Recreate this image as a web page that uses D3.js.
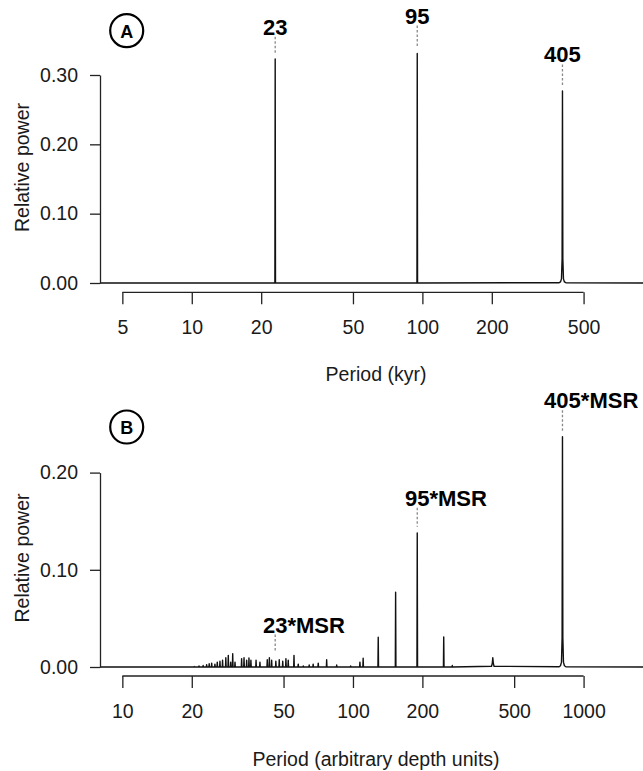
<!DOCTYPE html>
<html>
<head>
<meta charset="utf-8">
<script src="https://cdn.jsdelivr.net/npm/d3@7"></script>
<style>
  html, body { margin: 0; padding: 0; background: #fff; }
  svg { display: block; }
  text { font-family: "Liberation Sans", Arial, Helvetica, sans-serif; fill: #1a1a1a; }
</style>
</head>
<body>
<svg id="chart" width="643" height="771"></svg>
<script>
// ---- panel A: astronomical target, period in kyr ----
const ticksA = [5, 10, 20, 50, 100, 200, 500];
const yTicksA = [0, 0.10, 0.20, 0.30];
const spikePeriodsA = [23, 95];
const spikePowersA = [0.323, 0.331];
// broad 405 kyr peak, read point by point
const profileA = [[392, 0.0004], [397, 0.0015], [401, 0.006], [403.5, 0.035], [405, 0.277],
  [406.5, 0.035], [409, 0.006], [413, 0.0015], [419, 0.0004]];
const labelsA = ['23', '95', '405'];
const labelPeriodsA = [23, 95, 405];
const labelLevelsA = [0.369, 0.385, 0.329];
const labelTargetsA = [0.323, 0.331, 0.277];

// ---- panel B: record in depth units ----
const ticksB = [10, 20, 50, 100, 200, 500, 1000];
const yTicksB = [0, 0.10, 0.20];
const spikePeriodsB = [20.5, 21.5, 22.4, 23.2, 23.8, 24.4, 25.2, 25.8, 26.5, 27.2, 28.1, 28.8, 29.5,
  30.1, 30.8, 32.9, 33.7, 34.6, 35.4, 36.1, 38.0, 39.5, 42.5, 43.4, 44.4, 46.3, 47.9, 49.6, 51.2,
  52.4, 55.5, 57.9, 60.9, 64.6, 67.2, 70.7, 76.9, 85.0, 97.7, 107.2, 110.7, 128.7, 153.1, 190,
  247.5, 269.6];
const spikePowersB = [0.0005, 0.001, 0.0015, 0.0024, 0.0034, 0.004, 0.003, 0.005, 0.006, 0.007, 0.0096, 0.012, 0.005,
  0.0137, 0.005, 0.0086, 0.0096, 0.007, 0.0093, 0.007, 0.007, 0.005, 0.0075, 0.0096, 0.007, 0.006, 0.0075, 0.006, 0.0086,
  0.007, 0.012, 0.003, 0.001, 0.002, 0.003, 0.004, 0.0075, 0.002, 0.001, 0.005, 0.009, 0.0306, 0.0769, 0.138,
  0.031, 0.0015];
const profileB = [[399, 0.0008], [402, 0.004], [404, 0.0095], [406, 0.004], [409, 0.0008],
  [784, 0.0003], [794, 0.0013], [802, 0.005], [807, 0.03], [810, 0.237],
  [813, 0.03], [818, 0.005], [826, 0.0013], [838, 0.0003]];
const labelsB = ['23*MSR', '95*MSR', '405*MSR'];
const labelNumsB = ['23', '95', '405'];
const labelPeriodsB = [46, 190, 810];
const labelLevelsB = [0.0432, 0.1736, 0.274];
const labelTargetsB = [0.0096, 0.138, 0.237];

const svg = d3.select('#chart');

function drawPanel(p) {
  const g = svg.append('g');
  const x = d3.scaleLog().domain(p.xDomain).range([100, 653]);
  const y = d3.scaleLinear().domain(p.yDomain).range(p.yRange);

  // spectrum as one polyline: baseline + spikes + read profiles
  const pts = [[x(p.xDomain[0]), y(0)], [x(p.xDomain[1]), y(0)]];
  p.spikes.forEach((d, i) => {
    const px = x(d);
    pts.push([px - 0.3, y(0)], [px, y(p.powers[i])], [px + 0.3, y(0)]);
  });
  p.profile.forEach(d => pts.push([x(d[0]), y(d[1])]));
  pts.sort((a, b) => a[0] - b[0]);

  g.append('path')
    .attr('d', d3.line()(pts))
    .attr('fill', 'none')
    .attr('stroke', '#111')
    .attr('stroke-width', 1.4)
    .attr('stroke-linejoin', 'round');

  // y axis
  const ya = g.append('g').attr('transform', 'translate(100,0)')
    .call(d3.axisLeft(y).tickValues(p.yTicks).tickFormat(d3.format('.2f'))
      .tickSize(10).tickSizeOuter(0).tickPadding(12));
  ya.selectAll('text').style('font-size', '19.5px').style('fill', '#1a1a1a');

  // x axis, line only between first and last tick
  const xa = g.append('g').attr('transform', `translate(0,${p.xAxisY})`)
    .call(d3.axisBottom(x).tickValues(p.xTicks).tickFormat(d => d)
      .tickSize(12).tickSizeOuter(0).tickPadding(16));
  xa.select('.domain').attr('d', `M${x(p.xTicks[0])},0H${x(p.xTicks[p.xTicks.length - 1])}`);
  xa.selectAll('text').style('font-size', '19.5px').style('fill', '#1a1a1a');

  [ya, xa].forEach(a => {
    a.selectAll('.domain, .tick line').attr('stroke', '#222').attr('stroke-width', 1.3);
  });

  // titles
  g.append('text')
    .attr('transform', `translate(21.5,${p.yTitleY}) rotate(-90)`)
    .attr('text-anchor', 'middle')
    .attr('dominant-baseline', 'central')
    .style('font-size', '19.5px')
    .text('Relative power');

  g.append('text')
    .attr('x', 376).attr('y', p.xTitleY)
    .attr('text-anchor', 'middle')
    .attr('dominant-baseline', 'central')
    .style('font-size', '19.5px')
    .text(p.xTitle);

  // peak labels, number centred over the peak
  p.labels.forEach((lab, i) => {
    const px = x(p.labelPeriods[i]);
    const ly = y(p.labelLevels[i]);
    const probe = g.append('text').style('font-size', '22px').style('font-weight', 'bold').text(p.labelNums[i]);
    const w = probe.node().getComputedTextLength();
    probe.remove();
    g.append('text')
      .attr('x', px - w / 2).attr('y', ly)
      .attr('dominant-baseline', 'central')
      .style('font-size', '22px').style('font-weight', 'bold')
      .style('fill', '#000')
      .text(lab);
    g.append('line')
      .attr('x1', px).attr('x2', px)
      .attr('y1', ly + 9.5).attr('y2', y(p.labelTargets[i]) - 6)
      .attr('stroke', '#888').attr('stroke-width', 1.3)
      .attr('stroke-dasharray', '2.5,2');
  });

  // panel letter
  g.append('circle')
    .attr('cx', 126.7).attr('cy', p.letterY).attr('r', 16.5)
    .attr('fill', 'none').attr('stroke', '#000').attr('stroke-width', 2.2);
  g.append('text')
    .attr('x', 126.7).attr('y', p.letterY + 1)
    .attr('text-anchor', 'middle').attr('dominant-baseline', 'central')
    .style('font-size', '18px').style('font-weight', 'bold').style('fill', '#000')
    .text(p.letter);
}

drawPanel({
  xDomain: [4, 1000], yDomain: [0, 0.30], yRange: [283, 75],
  xTicks: ticksA, yTicks: yTicksA, xAxisY: 292.3,
  spikes: spikePeriodsA, powers: spikePowersA, profile: profileA,
  labels: labelsA, labelNums: labelsA, labelPeriods: labelPeriodsA,
  labelLevels: labelLevelsA, labelTargets: labelTargetsA,
  yTitleY: 167.5, xTitleY: 374.3, xTitle: 'Period (kyr)',
  letter: 'A', letterY: 30.7
});

drawPanel({
  xDomain: [8, 2000], yDomain: [0, 0.20], yRange: [667, 472.6],
  xTicks: ticksB, yTicks: yTicksB, xAxisY: 676,
  spikes: spikePeriodsB, powers: spikePowersB, profile: profileB,
  labels: labelsB, labelNums: labelNumsB, labelPeriods: labelPeriodsB,
  labelLevels: labelLevelsB, labelTargets: labelTargetsB,
  yTitleY: 558, xTitleY: 759, xTitle: 'Period (arbitrary depth units)',
  letter: 'B', letterY: 427
});
</script>
</body>
</html>
